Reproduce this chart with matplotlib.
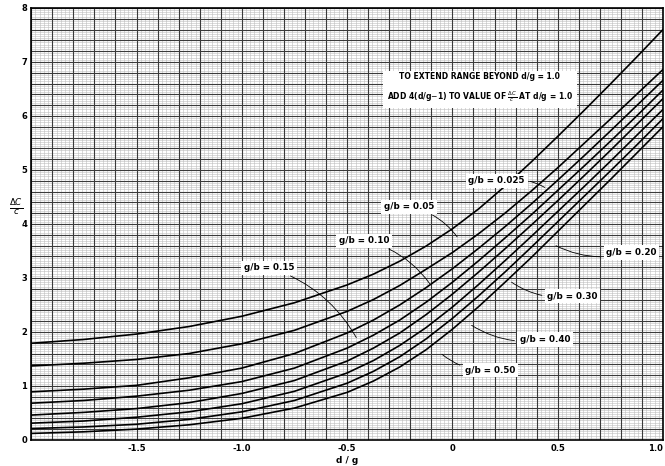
import matplotlib
matplotlib.use("Agg")
import matplotlib.pyplot as plt
import numpy as np
from matplotlib.ticker import MultipleLocator

# d/g stations
d_g = [-2.0, -1.75, -1.5, -1.25, -1.0, -0.75, -0.5, -0.375, -0.25, -0.125,
       0.0, 0.125, 0.25, 0.375, 0.5, 0.625, 0.75, 0.875, 1.0]

# Delta C / c for each g/b curve
dc_0025 = [1.79, 1.86, 1.96, 2.10, 2.29, 2.54, 2.87, 3.07, 3.31, 3.59,
           3.91, 4.28, 4.70, 5.15, 5.62, 6.10, 6.59, 7.09, 7.60]
dc_005 = [1.37, 1.42, 1.49, 1.60, 1.78, 2.03, 2.38, 2.60, 2.86, 3.16,
          3.47, 3.82, 4.20, 4.61, 5.04, 5.49, 5.94, 6.40, 6.86]
dc_010 = [0.89, 0.94, 1.01, 1.15, 1.33, 1.60, 1.98, 2.22, 2.50, 2.82,
          3.17, 3.55, 3.95, 4.37, 4.81, 5.26, 5.72, 6.19, 6.66]
dc_015 = [0.68, 0.73, 0.81, 0.92, 1.08, 1.33, 1.70, 1.94, 2.22, 2.55,
          2.92, 3.32, 3.74, 4.17, 4.62, 5.07, 5.53, 6.00, 6.48]
dc_020 = [0.46, 0.51, 0.58, 0.69, 0.86, 1.10, 1.46, 1.70, 1.98, 2.32,
          2.70, 3.11, 3.54, 3.98, 4.43, 4.89, 5.36, 5.84, 6.32]
dc_030 = [0.31, 0.35, 0.42, 0.52, 0.67, 0.90, 1.24, 1.47, 1.75, 2.08,
          2.46, 2.88, 3.32, 3.77, 4.23, 4.69, 5.16, 5.64, 6.12]
dc_040 = [0.21, 0.24, 0.29, 0.38, 0.52, 0.73, 1.05, 1.27, 1.54, 1.87,
          2.25, 2.67, 3.11, 3.57, 4.04, 4.51, 4.98, 5.46, 5.95]
dc_050 = [0.12, 0.15, 0.20, 0.28, 0.40, 0.59, 0.88, 1.09, 1.35, 1.67,
          2.05, 2.47, 2.92, 3.38, 3.86, 4.34, 4.82, 5.31, 5.80]

curves = [dc_0025, dc_005, dc_010, dc_015, dc_020, dc_030, dc_040, dc_050]

# curve labels: text, label position, leader end
labels = ["g/b = 0.025", "g/b = 0.05", "g/b = 0.10", "g/b = 0.15",
          "g/b = 0.20", "g/b = 0.30", "g/b = 0.40", "g/b = 0.50"]
label_xy = [(0.21, 4.80), (-0.205, 4.32), (-0.42, 3.69), (-0.87, 3.19),
            (0.85, 3.47), (0.57, 2.66), (0.44, 1.86), (0.18, 1.29)]
leader_xy = [(0.45, 4.65), (0.03, 3.72), (-0.10, 2.85), (-0.45, 1.85),
             (0.48, 3.62), (0.27, 2.95), (0.08, 2.15), (-0.06, 1.62)]

fig = plt.figure(figsize=(6.65, 4.66), dpi=100)
ax = fig.add_axes([0.047, 0.056, 0.950, 0.927])

for ys in curves:
    ax.plot(d_g, ys, color="black", lw=1.2, zorder=3)

ax.set_xlim(-2.0, 1.0)
ax.set_ylim(0, 8)

# graph-paper grid
for v in np.arange(-2.0, 1.0001, 0.02):
    ax.axvline(v, color="#bdbdbd", lw=0.4, zorder=1)
for v in np.arange(0, 8.0001, 0.04):
    ax.axhline(v, color="#bdbdbd", lw=0.4, zorder=1)
for v in np.arange(-2.0, 1.0001, 0.1):
    ax.axvline(v, color="#3a3a3a", lw=0.8, zorder=2)
for v in np.arange(0, 8.0001, 0.2):
    ax.axhline(v, color="#3a3a3a", lw=0.8, zorder=2)

ax.set_xticks([-1.5, -1.0, -0.5, 0, 0.5, 1.0])
ax.set_xticklabels(["-1.5", "-1.0", "-0.5", "0", "0.5", "1.0"])
ax.set_yticks(range(0, 9))
ax.tick_params(length=0, labelsize=6, pad=3)
for lab in ax.get_xticklabels() + ax.get_yticklabels():
    lab.set_fontweight("bold")
ax.get_xticklabels()[-1].set_horizontalalignment("right")
for s in ax.spines.values():
    s.set_linewidth(1.2)

ax.set_xlabel("d / g", fontsize=6.5, fontweight="bold", labelpad=2)
fig.text(0.024, 0.555, r"$\frac{\Delta C}{c}$", fontsize=9, ha="center", va="center")

box = dict(boxstyle="square,pad=0.3", fc="white", ec="none")
for txt, (lx, ly), (ex, ey) in zip(labels, label_xy, leader_xy):
    ax.annotate(txt, xy=(ex, ey), xytext=(lx, ly), fontsize=6.3,
                fontweight="bold", ha="center", va="center", bbox=box, zorder=5,
                arrowprops=dict(arrowstyle="-", lw=0.6, color="black",
                                connectionstyle="arc3,rad=-0.2"))

ax.text(0.13, 6.51,
        "TO EXTEND RANGE BEYOND d/g = 1.0\n"
        r"ADD 4(d/g$-$1) TO VALUE OF $\frac{\Delta C}{c}$ AT d/g = 1.0",
        fontsize=5.5, fontweight="bold", ha="center", va="center",
        linespacing=1.8, zorder=5,
        bbox=dict(boxstyle="square,pad=0.5", fc="white", ec="none"))

fig.savefig("out.png", dpi=100)
